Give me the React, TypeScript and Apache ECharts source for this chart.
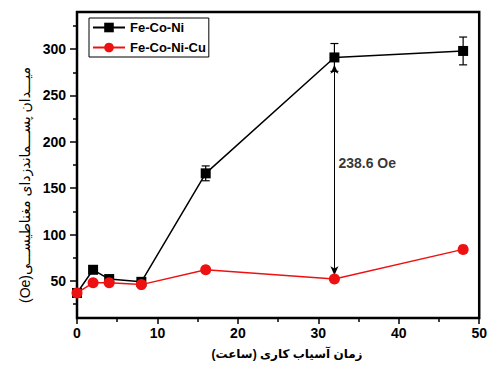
import React, { useEffect, useRef } from "react";
import * as echarts from "echarts";

const hours = [0, 2, 4, 8, 16, 32, 48];
const feCoNi = [37, 62, 52, 49, 166, 291, 298];
const feCoNiErr = [0, 0, 0, 0, 8, 15, 15];
const feCoNiCu = [37, 48, 48, 46, 62, 52, 84];
const yMajorTicks = [50, 100, 150, 200, 250, 300];
const yMinorTicks = [25, 75, 125, 175, 225, 275, 325];
const arrowFrom = [32, 283];
const arrowTo = [32, 56];
const diffLabelPos = [32, 177];
const diffLabel = "238.6 Oe";
const seriesNames = ["Fe-Co-Ni", "Fe-Co-Ni-Cu"];
const xName = "زمان آسیاب کاری (ساعت)";
const yName = "\u202Bمیـــدان پســـماندزدای مغناطیســـی(Oe)\u202C";

const FONT = "'Liberation Sans', Arial, 'DejaVu Sans', sans-serif";

export default function App() {
  const ref = useRef<HTMLDivElement>(null);
  useEffect(() => {
    document.body.style.margin = "0";
    const chart = echarts.init(ref.current!, undefined, { renderer: "svg" });
    const errData = hours
      .map((h, i) => [h, feCoNi[i] - feCoNiErr[i], feCoNi[i] + feCoNiErr[i]])
      .filter((d, i) => feCoNiErr[i] > 0);
    chart.setOption({
      animation: false,
      backgroundColor: "#fff",
      grid: { left: 77, right: 4, top: 12, bottom: 48, show: true, borderColor: "#000", borderWidth: 2.5 },
      legend: {
        left: 89,
        top: 18,
        orient: "vertical",
        borderColor: "#000",
        borderWidth: 1,
        padding: [3, 3, 3, 3],
        itemWidth: 32,
        itemHeight: 12,
        itemGap: 7,
        textStyle: { fontFamily: FONT, fontWeight: "bold", fontSize: 13, color: "#000" },
        data: seriesNames,
      },
      xAxis: {
        type: "value",
        min: 0,
        max: 50,
        interval: 10,
        axisLine: { lineStyle: { color: "#000", width: 2 } },
        axisTick: { show: true, length: 6, lineStyle: { color: "#000", width: 1.5 } },
        minorTick: { show: true, splitNumber: 2, length: 4, lineStyle: { color: "#000", width: 1.5 } },
        splitLine: { show: false },
        axisLabel: { margin: 8, fontFamily: FONT, fontWeight: "bold", fontSize: 14, color: "#000" },
      },
      yAxis: [
        {
          type: "value",
          min: 10,
          max: 340,
          axisLine: { show: true, lineStyle: { color: "#000", width: 2 } },
          axisTick: { show: true, length: 7, customValues: yMajorTicks, lineStyle: { color: "#000", width: 1.5 } },
          splitLine: { show: false },
          axisLabel: { margin: 11, customValues: yMajorTicks, fontFamily: FONT, fontWeight: "bold", fontSize: 14, color: "#000" },
        },
        {
          type: "value",
          min: 10,
          max: 340,
          position: "left",
          axisLine: { show: false },
          axisTick: { show: true, length: 4, customValues: yMinorTicks, lineStyle: { color: "#000", width: 1.5 } },
          splitLine: { show: false },
          axisLabel: { show: false, customValues: yMinorTicks },
        },
      ],
      graphic: [
        {
          type: "text",
          x: 25,
          y: 185,
          rotation: Math.PI / 2,
          style: {
            text: yName,
            font: `14px ${FONT}`,
            fill: "#000",
            align: "center",
            verticalAlign: "middle",
            textAlign: "center",
            textVerticalAlign: "middle",
          },
        },
        {
          type: "text",
          x: 287,
          y: 354,
          style: {
            text: xName,
            font: `bold 12px ${FONT}`,
            fill: "#000",
            align: "center",
            verticalAlign: "middle",
            textAlign: "center",
            textVerticalAlign: "middle",
          },
        },
      ],
      series: [
        {
          type: "custom",
          name: "err",
          z: 3,
          renderItem: (params: any, api: any) => {
            const x = api.value(0);
            const lo = api.coord([x, api.value(1)]);
            const hi = api.coord([x, api.value(2)]);
            const w = 4;
            const style = { stroke: "#000", lineWidth: 1.2 };
            return {
              type: "group",
              children: [
                { type: "line", shape: { x1: lo[0], y1: lo[1], x2: hi[0], y2: hi[1] }, style },
                { type: "line", shape: { x1: lo[0] - w, y1: lo[1], x2: lo[0] + w, y2: lo[1] }, style },
                { type: "line", shape: { x1: hi[0] - w, y1: hi[1], x2: hi[0] + w, y2: hi[1] }, style },
              ],
            };
          },
          data: errData,
        },
        {
          type: "line",
          name: seriesNames[0],
          z: 4,
          data: hours.map((h, i) => [h, feCoNi[i]]),
          symbol: "rect",
          symbolSize: 10,
          itemStyle: { color: "#000" },
          lineStyle: { color: "#000", width: 1.5 },
          markLine: {
            silent: true,
            symbol: ["arrow", "arrow"],
            symbolSize: [6, 9],
            label: { show: false },
            lineStyle: { color: "#000", width: 1, type: "solid" },
            data: [[{ coord: arrowFrom }, { coord: arrowTo }]],
          },
        },
        {
          type: "line",
          name: seriesNames[1],
          z: 5,
          data: hours.map((h, i) => [h, feCoNiCu[i]]),
          symbol: "circle",
          symbolSize: 11,
          itemStyle: { color: "#ee1111" },
          lineStyle: { color: "#ee1111", width: 1.5 },
        },
        {
          type: "scatter",
          name: "label",
          symbolSize: 0,
          data: [diffLabelPos],
          label: {
            show: true,
            position: "right",
            distance: 4,
            formatter: diffLabel,
            fontFamily: FONT,
            fontWeight: "bold",
            fontSize: 14,
            color: "#000",
          },
        },
      ],
    });
    return () => chart.dispose();
  }, []);
  return <div ref={ref} style={{ width: 490, height: 366 }} />;
}
